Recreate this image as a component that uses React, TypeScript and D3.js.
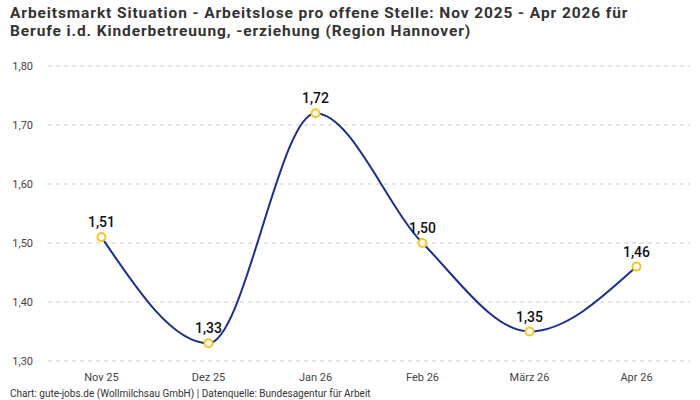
import React, { useRef, useEffect } from 'react';
import * as d3 from 'd3';

const months = ['Nov 25', 'Dez 25', 'Jan 26', 'Feb 26', 'März 26', 'Apr 26'];
const values = [1.51, 1.33, 1.72, 1.5, 1.35, 1.46];
const yTicks = [1.3, 1.4, 1.5, 1.6, 1.7, 1.8];

const titleLines = [
  'Arbeitsmarkt Situation - Arbeitslose pro offene Stelle: Nov 2025 - Apr 2026 für',
  'Berufe i.d. Kinderbetreuung, -erziehung (Region Hannover)',
];
const footer = 'Chart: gute-jobs.de (Wollmilchsau GmbH) | Datenquelle: Bundesagentur für Arbeit';

const width = 700;
const height = 400;
const font = 'Roboto, "Noto Sans", sans-serif';

const fmt = (v: number) => v.toFixed(2).replace('.', ',');

const App: React.FC = () => {
  const svgRef = useRef<SVGSVGElement | null>(null);

  useEffect(() => {
    if (!svgRef.current) return;
    const svg = d3.select(svgRef.current);
    svg.selectAll('*').remove();

    const margin = { top: 66, right: 10, bottom: 39, left: 48 };

    const x = d3.scalePoint<string>()
      .domain(months)
      .range([margin.left, width - margin.right])
      .padding(0.5);

    const y = d3.scaleLinear()
      .domain([1.3, 1.8])
      .range([height - margin.bottom, margin.top]);

    // title
    svg.append('g')
      .selectAll('text')
      .data(titleLines)
      .join('text')
      .attr('x', 10)
      .attr('y', (_, i) => 18 + i * 18)
      .attr('font-family', font)
      .attr('font-size', 15.5)
      .attr('font-weight', 700)
      .attr('letter-spacing', 0.9)
      .attr('fill', '#333')
      .text(d => d);

    // grid + y labels
    const grid = svg.append('g');
    grid.selectAll('line')
      .data(yTicks)
      .join('line')
      .attr('x1', margin.left)
      .attr('x2', width - margin.right)
      .attr('y1', d => y(d))
      .attr('y2', d => y(d))
      .attr('stroke', '#cccccc')
      .attr('stroke-dasharray', '4 4');

    grid.selectAll('text')
      .data(yTicks)
      .join('text')
      .attr('x', 33)
      .attr('y', d => y(d))
      .attr('dy', '0.35em')
      .attr('text-anchor', 'end')
      .attr('font-family', font)
      .attr('font-size', 11)
      .attr('fill', '#444')
      .text(d => fmt(d));

    // x labels
    svg.append('g')
      .selectAll('text')
      .data(months)
      .join('text')
      .attr('x', d => x(d)!)
      .attr('y', 377)
      .attr('dy', '0.35em')
      .attr('text-anchor', 'middle')
      .attr('font-family', font)
      .attr('font-size', 11)
      .attr('fill', '#444')
      .text(d => d);

    const points = months.map((m, i) => ({ m, v: values[i] }));

    const line = d3.line<{ m: string; v: number }>()
      .x(d => x(d.m)!)
      .y(d => y(d.v))
      .curve(d3.curveMonotoneX);

    svg.append('path')
      .datum(points)
      .attr('d', line)
      .attr('fill', 'none')
      .attr('stroke', '#1c2f8f')
      .attr('stroke-width', 2);

    svg.append('g')
      .selectAll('circle')
      .data(points)
      .join('circle')
      .attr('cx', d => x(d.m)!)
      .attr('cy', d => y(d.v))
      .attr('r', 4)
      .attr('fill', '#fff')
      .attr('stroke', '#f7c325')
      .attr('stroke-width', 2);

    svg.append('g')
      .selectAll('text')
      .data(points)
      .join('text')
      .attr('x', d => x(d.m)!)
      .attr('y', d => y(d.v) - 10)
      .attr('text-anchor', 'middle')
      .attr('font-family', font)
      .attr('font-size', 14)
      .attr('font-weight', 500)
      .attr('fill', '#111')
      .text(d => fmt(d.v));

    svg.append('text')
      .attr('x', 10)
      .attr('y', 393)
      .attr('dy', '0.35em')
      .attr('font-family', font)
      .attr('font-size', 10)
      .attr('fill', '#333')
      .text(footer);
  }, []);

  return <svg ref={svgRef} width={width} height={height} style={{ position: 'absolute', left: 0, top: 0, background: '#fff' }} />;
};

export default App;
